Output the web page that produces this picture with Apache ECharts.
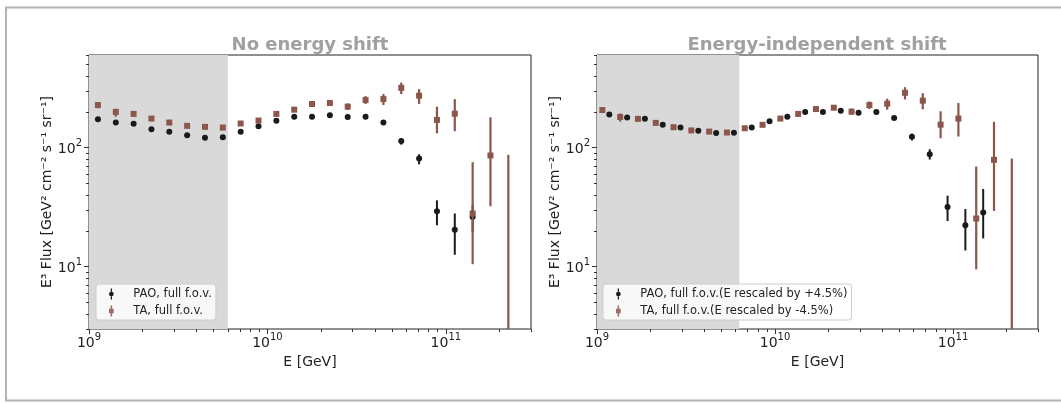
<!DOCTYPE html>
<html>
<head>
<meta charset="utf-8">
<script src="https://cdn.jsdelivr.net/npm/echarts@6/dist/echarts.min.js"></script>
<style>
  html, body { margin: 0; padding: 0; background: #fff; }
  #chart { width: 1061px; height: 403px; }
</style>
</head>
<body>
<div id="chart"></div>
<script>
// bin centres, log10(E/GeV) = 9.05 ... 11.35
const energy = [1.122e9, 1.413e9, 1.778e9, 2.239e9, 2.818e9, 3.548e9, 4.467e9, 5.623e9, 7.079e9, 8.913e9,
  1.122e10, 1.413e10, 1.778e10, 2.239e10, 2.818e10, 3.548e10, 4.467e10, 5.623e10, 7.079e10, 8.913e10,
  1.122e11, 1.413e11, 1.778e11, 2.239e11]

// energy rescaling used in the right panel
const paoScale = 1.045
const taScale = 0.955

// end of the grey band (GeV)
const shadeEndLeft = 6.0e9
const shadeEndRight = 6.3e9

// left panel: no energy shift
const paoFlux = [173, 163, 159, 143, 136, 127, 121, 122.5, 136, 151, 168, 182, 182, 187, 181, 182, 163,
  113.5, 81, 29.2, 20.4, 26.1]
const paoLo = [null, null, null, null, null, null, null, null, null, null, null, null, null, null, null, null, null,
  106, 72.5, 22.3, 12.6, 19.5]
const paoHi = [null, null, null, null, null, null, null, null, null, null, null, null, null, null, null, null, null,
  119, 88, 36.1, 28, 33]

const taFlux = [228, 199.5, 192, 175.5, 162.5, 152.5, 149.5, 147.5, 159.5, 169, 192, 208.5, 232.5, 237,
  221, 251, 256, 318, 273, 171, 193, 28, 86, null]
const taLo = [214, 182, null, null, null, null, null, null, null, null, null, null, null, null,
  207, 233, 228, 282, 233, 132, 137.5, 10.5, 32.2, 1]
const taHi = [240, 212.5, null, null, null, null, null, null, null, null, null, null, null, null,
  235, 271, 282, 352, 310, 221, 256, 75.5, 180, 87]

// right panel: energy-independent shift
const paoFluxR = [189.5, 179, 174.5, 156, 147.5, 138.5, 132.5, 133.5, 147.5, 166.5, 182, 199.5, 199.5, 204.5,
  196.5, 199.5, 177.5, 123.5, 88, 31.8, 22.3, 28.5]
const paoLoR = [null, null, null, null, null, null, null, null, null, null, null, null, null, null, null, null, null,
  115, 79.5, 24.2, 13.7, 17.3]
const paoHiR = [null, null, null, null, null, null, null, null, null, null, null, null, null, null, null, null, null,
  131, 97, 39.5, 30.5, 45]

const taFluxR = [207, 181, 174.5, 161.5, 148.5, 139.5, 136.5, 134, 145.5, 155.5, 175.5, 192, 211, 216.5,
  200.5, 228, 234, 289, 248, 156, 175.5, 25.4, 79, null]
const taLoR = [197, 165.5, null, null, null, null, null, null, null, null, null, null, null, null,
  188, 211, 208.5, 254, 210, 120, 124, 9.5, 29.4, 1]
const taHiR = [218, 194, null, null, null, null, null, null, null, null, null, null, null, null,
  213.5, 244.5, 257.5, 322, 287, 202, 237, 69.5, 165, 81]

// axis ticks
const xMajor = [1e9, 1e10, 1e11]
const xMinor = [2e9, 3e9, 4e9, 5e9, 6e9, 7e9, 8e9, 9e9, 2e10, 3e10, 4e10, 5e10, 6e10, 7e10, 8e10, 9e10, 2e11, 3e11]
const yMajor = [10, 100]
const yMinor = [3, 4, 5, 6, 7, 8, 9, 20, 30, 40, 50, 60, 70, 80, 90, 200, 300, 400, 500, 600]

const titles = ['No energy shift', 'Energy-independent shift']
const legendNames = [
  ['PAO, full f.o.v.', 'TA, full f.o.v.'],
  ['PAO, full f.o.v.(E rescaled by +4.5%)', 'TA, full f.o.v.(E rescaled by -4.5%)']
]

const FONT = 'DejaVu Sans'
const PAO_COLOR = '#1a1a1a'
const TA_COLOR = '#8c564b'
// errorbar-style legend handles: bar pieces above/below the marker
const PAO_ICON = 'path://M4.2,0H5.8V4.5H4.2Z M4.2,9.5H5.8V14H4.2Z M2,7A3,3 0 1,0 8,7A3,3 0 1,0 2,7Z'
const TA_ICON = 'path://M4,0H6V4H4Z M4,10H6V14H4Z M2,4H8V10H2Z'

function points(flux, scale) {
  const out = []
  flux.forEach((v, i) => { if (v != null) out.push([energy[i] * scale, v]) })
  return out
}

function bars(lo, hi, scale) {
  const out = []
  lo.forEach((v, i) => { if (v != null) out.push([energy[i] * scale, v, hi[i]]) })
  return out
}

function barRenderer(width) {
  return function (params, api) {
    const x = api.value(0)
    const top = api.coord([x, api.value(2)])
    const bot = api.coord([x, api.value(1)])
    const cs = params.coordSys
    const y1 = Math.max(top[1], cs.y)
    const y2 = Math.min(isFinite(bot[1]) ? bot[1] : cs.y + cs.height, cs.y + cs.height)
    return {
      type: 'line',
      shape: { x1: top[0], y1: y1, x2: top[0], y2: y2 },
      style: { stroke: api.visual('color'), lineWidth: width, opacity: api.visual('opacity') }
    }
  }
}

const powLabel = v => '{b|10}{s|' + Math.round(Math.log10(v)) + '}'
const labelRich = {
  b: { fontSize: 14, fontFamily: FONT, color: '#222', verticalAlign: 'bottom', lineHeight: 18 },
  s: { fontSize: 10, fontFamily: FONT, color: '#222', verticalAlign: 'top', lineHeight: 18 }
}

function xAxes(grid) {
  const base = { type: 'log', logBase: 10, min: 1e9, max: 3e11, gridIndex: grid, position: 'bottom', splitLine: { show: false } }
  return [
    Object.assign({}, base, {
      name: 'E [GeV]', nameLocation: 'middle', nameGap: 20,
      nameTextStyle: { fontFamily: FONT, fontSize: 14, color: '#222' },
      axisLine: { show: false },
      axisTick: { show: true, length: 5, customValues: xMajor, lineStyle: { color: '#333' } },
      axisLabel: { customValues: xMajor, formatter: powLabel, rich: labelRich, margin: 3, showMinLabel: true }
    }),
    Object.assign({}, base, {
      axisLine: { show: false },
      axisTick: { show: true, length: 3, customValues: xMinor, lineStyle: { color: '#333' } },
      axisLabel: { show: false }
    })
  ]
}

function yAxes(grid) {
  const base = { type: 'log', logBase: 10, min: 3, max: 600, gridIndex: grid, position: 'left', splitLine: { show: false } }
  return [
    Object.assign({}, base, {
      name: 'E³ Flux [GeV² cm⁻² s⁻¹ sr⁻¹]', nameLocation: 'middle', nameGap: 34, nameRotate: 90,
      nameTextStyle: { fontFamily: FONT, fontSize: 14, color: '#222' },
      axisLine: { show: false },
      axisTick: { show: true, length: 5, customValues: yMajor, lineStyle: { color: '#333' } },
      axisLabel: { customValues: yMajor, formatter: powLabel, rich: labelRich, margin: 7 }
    }),
    Object.assign({}, base, {
      axisLine: { show: false },
      axisTick: { show: true, length: 3, customValues: yMinor, lineStyle: { color: '#333' } },
      axisLabel: { show: false }
    })
  ]
}

function panelSeries(p, pao, paoL, paoH, ta, taL, taH, paoS, taS, shadeEnd) {
  const xi = p * 2, yi = p * 2
  const names = legendNames[p]
  return [
    {
      name: names[0], type: 'custom', xAxisIndex: xi, yAxisIndex: yi,
      renderItem: barRenderer(2), itemStyle: { color: PAO_COLOR }, z: 3,
      data: bars(paoL, paoH, paoS),
      markArea: {
        silent: true, itemStyle: { color: '#d9d9d9' },
        data: [[{ xAxis: 1e9 }, { xAxis: shadeEnd }]]
      }
    },
    {
      name: names[0], type: 'scatter', xAxisIndex: xi, yAxisIndex: yi, symbol: 'circle', symbolSize: 6,
      itemStyle: { color: PAO_COLOR, opacity: 1 }, z: 4, clip: true,
      data: points(pao, paoS)
    },
    {
      name: names[1], type: 'custom', xAxisIndex: xi, yAxisIndex: yi,
      renderItem: barRenderer(2.2), itemStyle: { color: TA_COLOR, opacity: 0.85 }, z: 5,
      data: bars(taL, taH, taS)
    },
    {
      name: names[1], type: 'scatter', xAxisIndex: xi, yAxisIndex: yi, symbol: 'rect', symbolSize: 6,
      itemStyle: { color: TA_COLOR, opacity: 1 }, z: 6, clip: true,
      data: points(ta, taS)
    }
  ]
}

function legend(p, left) {
  return {
    left: left, top: 284, orient: 'vertical',
    backgroundColor: 'rgba(255,255,255,0.8)', borderColor: '#cccccc', borderWidth: 1, borderRadius: 3,
    padding: [4, 4, 3, 13], itemWidth: 6, itemHeight: 11, itemGap: 5,
    textStyle: { fontFamily: FONT, fontSize: 11.5, color: '#222', padding: [0, 0, 0, 14] },
    selectedMode: false,
    data: [
      { name: legendNames[p][0], icon: PAO_ICON, itemStyle: { color: PAO_COLOR } },
      { name: legendNames[p][1], icon: TA_ICON, itemStyle: { color: TA_COLOR } }
    ]
  }
}

const chart = echarts.init(document.getElementById('chart'), null, { renderer: 'canvas' })

const gridBox = { show: true, borderColor: '#222', borderWidth: 1, backgroundColor: 'transparent', top: 55, bottom: 74 }

chart.setOption({
  animation: false,
  backgroundColor: '#fff',
  grid: [
    Object.assign({}, gridBox, { left: 89, right: 530 }),
    Object.assign({}, gridBox, { left: 597, right: 23 })
  ],
  xAxis: xAxes(0).concat(xAxes(1)),
  yAxis: yAxes(0).concat(yAxes(1)),
  legend: [legend(0, 96), legend(1, 603)],
  graphic: [
    { type: 'rect', silent: true, shape: { x: 6, y: 7.5, width: 1100, height: 393 },
      style: { fill: 'none', stroke: '#b3b3b3', lineWidth: 2 } },
    { type: 'text', silent: true, x: 310, y: 45,
      style: { text: titles[0], textAlign: 'center', textVerticalAlign: 'middle', fill: '#a0a0a0',
        font: 'bold 18px "DejaVu Sans"' } },
    { type: 'text', silent: true, x: 817, y: 45,
      style: { text: titles[1], textAlign: 'center', textVerticalAlign: 'middle', fill: '#a0a0a0',
        font: 'bold 18px "DejaVu Sans"' } }
  ],
  series: panelSeries(0, paoFlux, paoLo, paoHi, taFlux, taLo, taHi, 1, 1, shadeEndLeft)
    .concat(panelSeries(1, paoFluxR, paoLoR, paoHiR, taFluxR, taLoR, taHiR, paoScale, taScale, shadeEndRight))
})

window.addEventListener('resize', () => chart.resize())
</script>
</body>
</html>
